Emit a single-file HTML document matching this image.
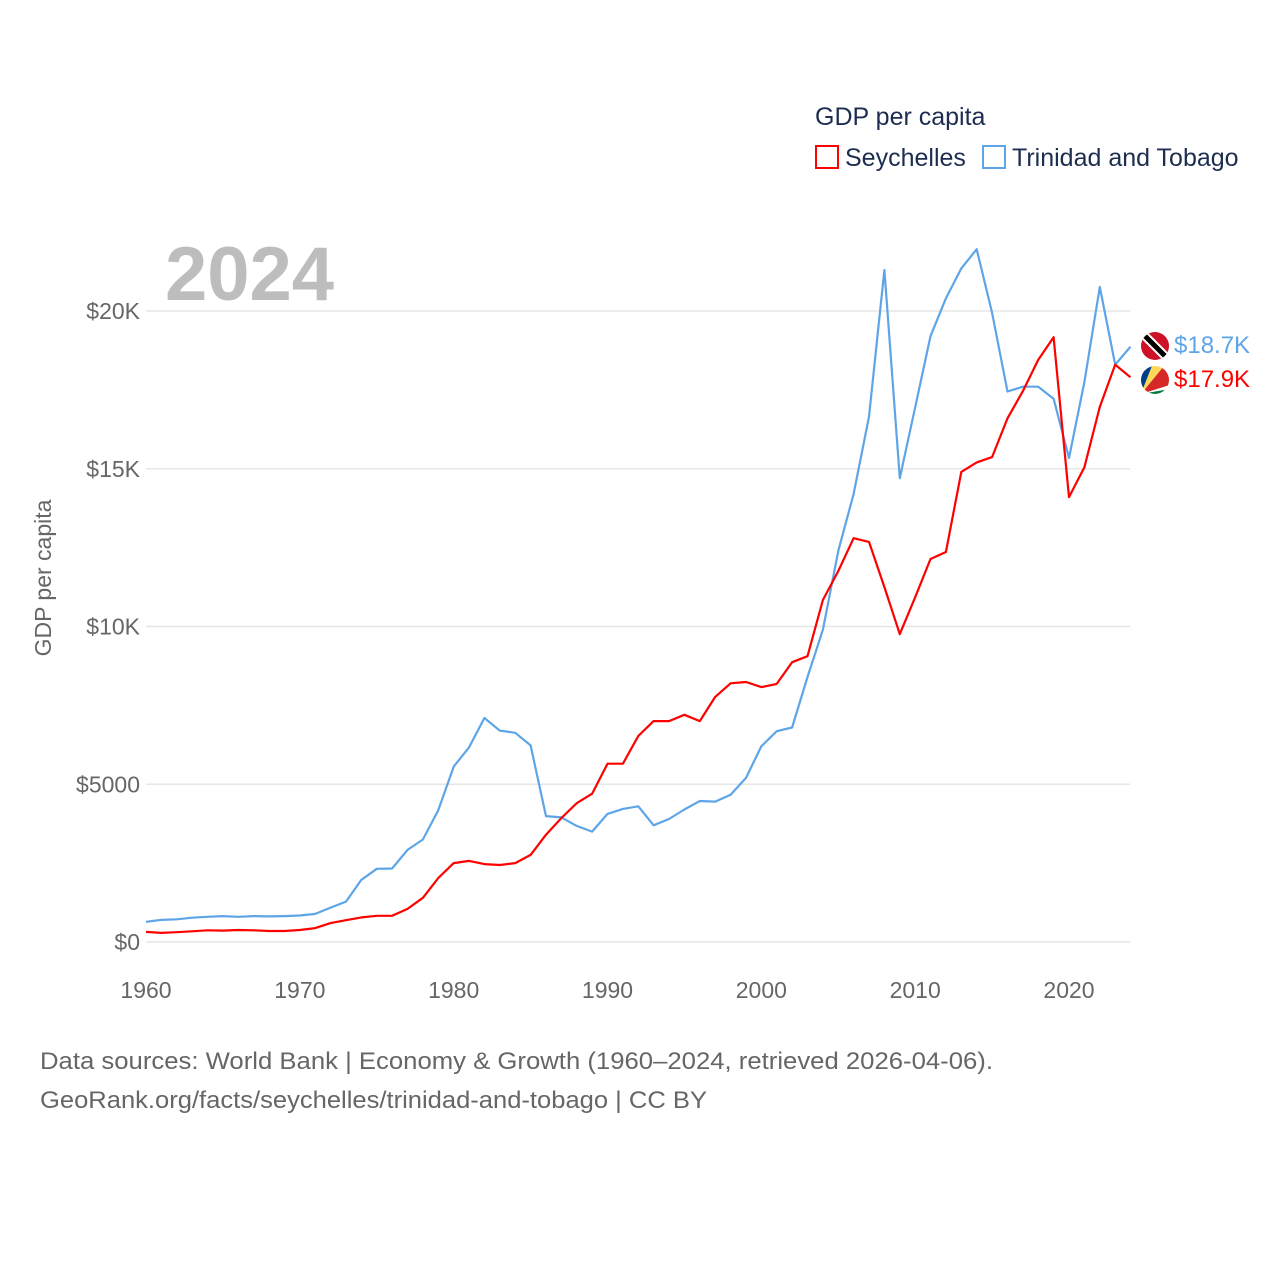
<!DOCTYPE html>
<html><head><meta charset="utf-8"><style>
body{margin:0;background:#fff;}
svg text{font-family:"Liberation Sans",sans-serif;}
</style></head><body>
<svg id="chart" width="1280" height="1280" viewBox="0 0 1280 1280">
<text x="815" y="125" font-size="25" fill="#1d2d50">GDP per capita</text>
<g>
<rect x="816" y="146" width="22" height="22" fill="none" stroke="#f00" stroke-width="2"/>
<text x="845" y="166" font-size="25" fill="#1d2d50">Seychelles</text></g>
<g>
<rect x="983" y="146" width="22" height="22" fill="none" stroke="#5ea5e8" stroke-width="2"/>
<text x="1012" y="166" font-size="25" fill="#1d2d50">Trinidad and Tobago</text></g>
<text x="165" y="300" font-size="76" font-weight="bold" fill="#bdbdbd">2024</text>
<text transform="translate(51,578) rotate(-90)" text-anchor="middle" font-size="23" fill="#666">GDP per capita</text>
<g id="grid"></g><g id="yt"></g><g id="xt"></g><g id="lines"></g>
<defs>
<clipPath id="c1"><circle cx="1155" cy="346" r="14"/></clipPath>
<clipPath id="c2"><circle cx="1155" cy="380" r="14"/></clipPath>
</defs>
<g clip-path="url(#c1)">
<rect x="1140" y="331" width="30" height="30" fill="#ce1126"/>
<line x1="1143" y1="334" x2="1167" y2="358" stroke="#fff" stroke-width="9"/>
<line x1="1143" y1="334" x2="1167" y2="358" stroke="#000" stroke-width="5"/>
</g>
<g clip-path="url(#c2)">
<rect x="1140" y="365" width="30" height="30" fill="#fff"/>
<polygon points="1141,394 1141,366 1152,366" fill="#003f87"/>
<polygon points="1141,394 1152,366 1164,366" fill="#fcd856"/>
<polygon points="1141,394 1164,366 1170,366 1170,385" fill="#d62828"/>
<polygon points="1141,394 1170,389 1170,395" fill="#007a3d"/>
</g>
<text x="1174" y="353" font-size="24" fill="#5ea5e8">$18.7K</text>
<text x="1174" y="387" font-size="24" fill="#f00">$17.9K</text>
<text x="40" y="1069" font-size="24" fill="#666" textLength="953" lengthAdjust="spacingAndGlyphs">Data sources: World Bank | Economy &amp; Growth (1960–2024, retrieved 2026-04-06).</text>
<text x="40" y="1108" font-size="24" fill="#666" textLength="667" lengthAdjust="spacingAndGlyphs">GeoRank.org/facts/seychelles/trinidad-and-tobago | CC BY</text>
</svg>
<script>
const years=[];for(let y=1960;y<=2024;y++)years.push(y);
const yTicks=[0,5000,10000,15000,20000];
const yTickLabels=["$0","$5000","$10K","$15K","$20K"];
const xTicks=[1960,1970,1980,1990,2000,2010,2020];
const seychelles=[0.32,0.29,0.31,0.34,0.37,0.36,0.38,0.37,0.35,0.35,0.38,0.44,0.6,0.69,0.78,0.83,0.83,1.05,1.4,2.03,2.5,2.57,2.47,2.44,2.5,2.76,3.4,3.93,4.4,4.7,5.65,5.65,6.53,7.0,7.0,7.2,7.0,7.77,8.2,8.24,8.08,8.18,8.87,9.06,10.84,11.76,12.8,12.68,11.25,9.76,10.93,12.14,12.36,14.9,15.2,15.37,16.6,17.46,18.45,19.17,14.1,15.05,16.96,18.3,17.9];
const trinidad=[0.64,0.7,0.72,0.77,0.8,0.82,0.8,0.82,0.81,0.82,0.84,0.89,1.09,1.28,1.97,2.32,2.33,2.92,3.25,4.18,5.56,6.17,7.1,6.7,6.63,6.23,3.99,3.95,3.68,3.5,4.06,4.22,4.3,3.7,3.9,4.2,4.47,4.45,4.67,5.2,6.2,6.68,6.8,8.4,9.9,12.4,14.2,16.65,21.3,14.7,16.95,19.2,20.4,21.35,21.96,19.94,17.45,17.6,17.6,17.22,15.34,17.75,20.76,18.3,18.87];
const X=y=>146+(y-1960)*(1069-146)/60;
const Y=v=>942-v/20000*631;
const NS="http://www.w3.org/2000/svg";
function mk(tag,attrs,parent){const e=document.createElementNS(NS,tag);for(const k in attrs)e.setAttribute(k,attrs[k]);document.getElementById(parent).appendChild(e);return e;}
yTicks.forEach((t,i)=>{
 const l=mk('line',{x1:146,x2:1130,y1:Y(t),y2:Y(t),stroke:'#e6e6e6','stroke-width':1.5},'grid');
 
 
 const tx=mk('text',{x:140,y:Y(t)+8,'text-anchor':'end','font-size':23,fill:'#666'},'yt');
 tx.textContent=yTickLabels[i];
 
 
});
xTicks.forEach(t=>{
 const tx=mk('text',{x:X(t),y:998,'text-anchor':'middle','font-size':23,fill:'#666'},'xt');
 tx.textContent=t;
 
 
});
function line(data,color,name){
 const d=data.map((v,i)=>(i?'L':'M')+X(years[i]).toFixed(1)+','+Y(v*1000).toFixed(1)).join('');
 const p=mk('path',{d:d,fill:'none',stroke:color,'stroke-width':2.2,'stroke-linejoin':'round'},'lines');
 
 
}
line(trinidad,'#5ea5e8','trinidad-line');
line(seychelles,'#f00','seychelles-line');
</script>
</body></html>
